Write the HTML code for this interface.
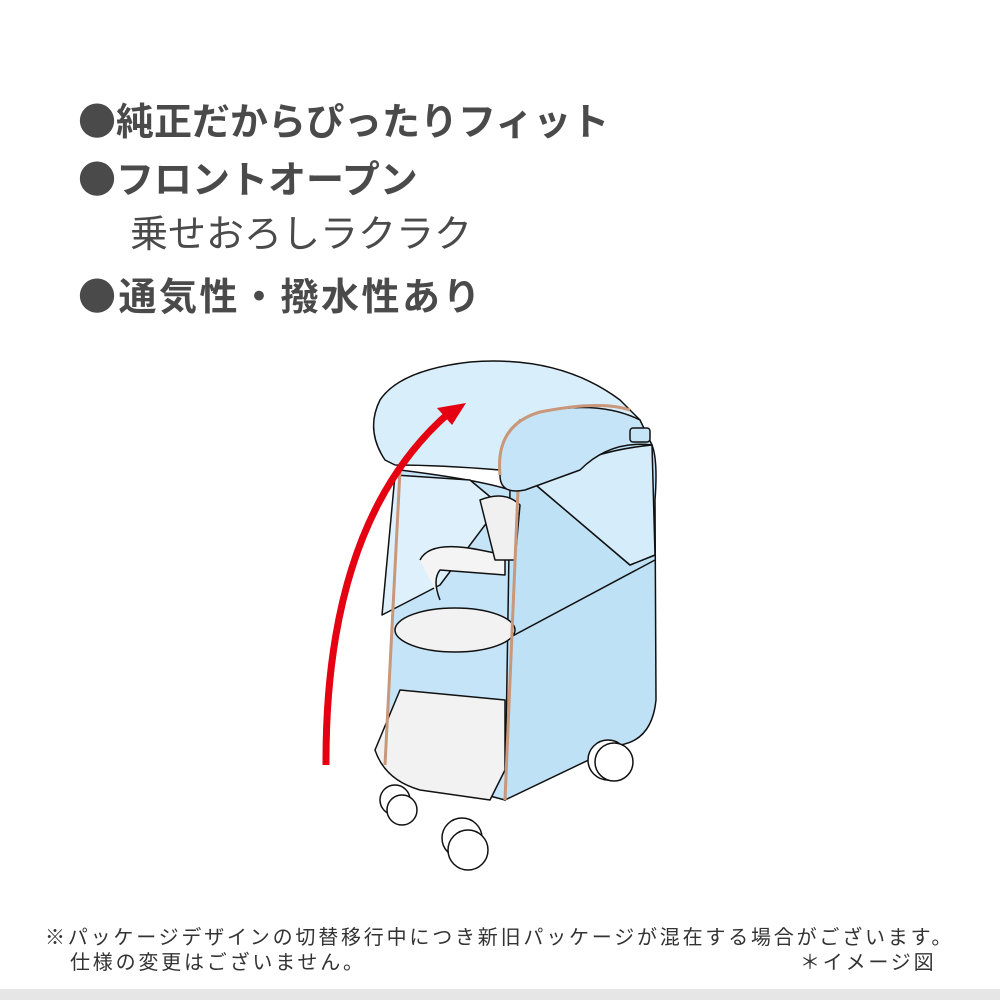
<!DOCTYPE html>
<html><head><meta charset="utf-8"><style>
body{margin:0;width:1000px;height:1000px;background:#fff;position:relative;overflow:hidden;font-family:"Liberation Sans","Noto Sans CJK JP",sans-serif;}
.h{position:absolute;left:78px;font-size:38px;font-weight:bold;color:#4a4a4a;white-space:nowrap;line-height:1;}
.b{font-family:"Noto Sans CJK JP",sans-serif;}
.f{position:absolute;font-size:20px;color:#333;white-space:nowrap;line-height:1;letter-spacing:2.8px;font-family:"Noto Sans CJK JP",sans-serif;}
</style></head><body>
<div class="h" style="top:100px"><span class="b">●</span>純正だからぴったりフィット</div>
<div class="h" style="top:158px"><span class="b">●</span>フロントオープン</div>
<div class="h" style="top:216px;left:130px;font-weight:normal">乗せおろしラクラク</div>
<div class="h" style="top:275px;letter-spacing:2.5px"><span class="b">●</span>通気性・撥水性あり</div>
<svg style="position:absolute;left:0;top:0" width="1000" height="1000" stroke="#111" stroke-width="1.5" stroke-linejoin="round">
<path d="M505 470 Q540 420 600 430 L652 445 Q658 460 655 500 L656 700 Q652 740 620 745 L505 800 Z" fill="#bfe1f6"/>
<path d="M530 480 L630 565 L655 555" fill="none"/>
<path d="M505 640 L655 560" fill="none"/>
<path d="M530 480 L560 470 Q600 450 652 445 L655 555 L630 565 Z" fill="#d5ecfa"/>
<path d="M400 470 L385 765 L410 775 L505 800 L510 490 Q480 480 400 470Z" fill="#c6e4f7"/>
<path d="M395 475 L382 615 L440 585 L500 505 L470 480Z" fill="#ddf0fb"/>
<path d="M420 560 Q430 540 480 550 L505 555 L505 575 L440 570 Q432 580 440 600" fill="#f4f4f4"/>
<ellipse cx="455" cy="630" rx="60" ry="22" fill="#f2f2f2"/>
<path d="M400 690 L375 750 Q385 780 420 790 L490 800 L505 770 L505 700 Z" fill="#f2f2f2"/>
<path d="M480 500 Q505 490 520 505 L515 560 L495 560Z" fill="#f0f0f0"/>
<path d="M400 470 L385 765" stroke="#c9977a" stroke-width="3" fill="none"/>
<path d="M518 490 L505 800" stroke="#c9977a" stroke-width="3" fill="none"/>
<circle cx="395" cy="800" r="15" fill="#fff"/><circle cx="402" cy="810" r="15" fill="#fff"/>
<circle cx="462" cy="838" r="20" fill="#fff"/><circle cx="468" cy="850" r="20" fill="#fff"/>
<circle cx="608" cy="760" r="20" fill="#fff"/><circle cx="614" cy="762" r="19" fill="#fff"/>
<path d="M385 460 Q365 430 380 400 Q400 370 470 362 Q560 355 620 400 L640 420 L520 420 Q500 440 500 470 Q440 465 395 465Z" fill="#d9eefb"/>
<path d="M500 475 Q495 425 540 412 Q600 400 640 420 Q652 445 652 445 Q610 440 580 470 L525 490 Q500 495 500 475Z" fill="#c6e4f7"/>
<path d="M500 475 Q495 425 540 412 Q600 400 630 410" stroke="#c9977a" stroke-width="3" fill="none"/>
<rect x="630" y="428" width="20" height="14" rx="3" fill="#c6e4f7"/>
<path d="M326 765 Q325 520 450 412" stroke="#e50012" stroke-width="7" fill="none"/>
<polygon points="466,403 437,408 452,425" fill="#e50012" stroke="none"/>
</svg>
<div class="f" style="left:45px;top:926px">※パッケージデザインの切替移行中につき新旧パッケージが混在する場合がございます。</div>
<div class="f" style="left:70px;top:951px">仕様の変更はございません。</div>
<div class="f" style="left:800px;top:951px">＊イメージ図</div>
<div style="position:absolute;left:0;top:989px;width:1000px;height:11px;background:#e6e6e6"></div>
</body></html>
